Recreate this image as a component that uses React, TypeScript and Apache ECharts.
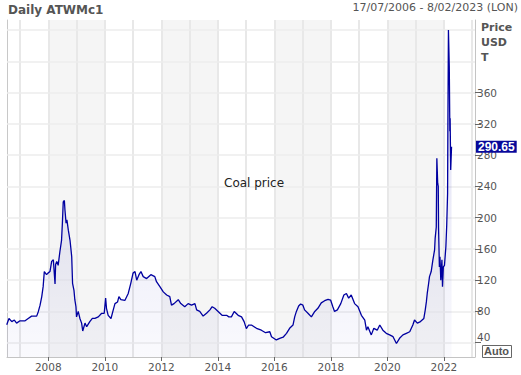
import React, { useEffect, useRef } from "react";
import * as echarts from "echarts";

const years = [
  2006.53, 2006.61, 2006.71, 2006.8, 2006.88, 2007.0, 2007.18, 2007.29, 2007.41, 2007.59,
  2007.65, 2007.71, 2007.77, 2007.82, 2007.86, 2007.94, 2007.99, 2008.06, 2008.12, 2008.18,
  2008.24, 2008.26, 2008.3, 2008.35, 2008.41, 2008.47, 2008.5, 2008.53, 2008.57, 2008.59,
  2008.63, 2008.66, 2008.71, 2008.77, 2008.83, 2008.86, 2008.91, 2008.94, 2008.98, 2009.0,
  2009.06, 2009.12, 2009.18, 2009.22, 2009.3, 2009.36, 2009.47, 2009.56, 2009.65, 2009.77,
  2009.89, 2009.98, 2010.03, 2010.06, 2010.12, 2010.22, 2010.3, 2010.36, 2010.45, 2010.5,
  2010.57, 2010.71, 2010.83, 2010.92, 2011.0, 2011.07, 2011.13, 2011.21, 2011.28, 2011.36,
  2011.48, 2011.63, 2011.77, 2011.83, 2011.95, 2012.07, 2012.19, 2012.3, 2012.36, 2012.45,
  2012.6, 2012.69, 2012.83, 2012.95, 2013.07, 2013.19, 2013.25, 2013.36, 2013.48, 2013.6,
  2013.72, 2013.8, 2013.89, 2014.01, 2014.15, 2014.31, 2014.39, 2014.48, 2014.58, 2014.72,
  2014.84, 2014.93, 2015.01, 2015.09, 2015.19, 2015.37, 2015.54, 2015.69, 2015.84, 2015.9,
  2016.07, 2016.19, 2016.31, 2016.43, 2016.54, 2016.66, 2016.72, 2016.78, 2016.86, 2016.93,
  2017.01, 2017.07, 2017.19, 2017.31, 2017.43, 2017.54, 2017.66, 2017.78, 2017.9, 2017.99,
  2018.07, 2018.13, 2018.23, 2018.35, 2018.46, 2018.55, 2018.63, 2018.72, 2018.84, 2018.96,
  2019.08, 2019.2, 2019.26, 2019.31, 2019.43, 2019.52, 2019.64, 2019.73, 2019.84, 2019.96,
  2020.08, 2020.2, 2020.32, 2020.43, 2020.55, 2020.67, 2020.79, 2020.9, 2020.96, 2021.06,
  2021.17, 2021.29, 2021.34, 2021.38, 2021.41, 2021.46, 2021.49, 2021.55, 2021.61, 2021.67,
  2021.69, 2021.73, 2021.75, 2021.78, 2021.8, 2021.81, 2021.84, 2021.86, 2021.89, 2021.93,
  2021.95, 2021.98, 2022.02, 2022.07, 2022.1, 2022.13, 2022.14, 2022.16, 2022.19, 2022.21,
  2022.22, 2022.24, 2022.27,
];

const prices = [
  63, 71, 67, 69, 65, 68, 68, 71, 74, 74,
  80, 88, 99, 112, 131, 127, 129, 131, 144, 146,
  115, 140, 144, 139, 156, 171, 193, 220, 222, 210,
  193, 197, 184, 171, 150, 116, 107, 95, 86, 73,
  80, 71, 65, 55, 65, 60.5, 67, 71, 71, 73,
  77.6, 77.6, 97, 84, 75, 71, 82, 90, 92, 99,
  95, 94, 103, 116, 129, 131, 120, 127, 131, 124.5,
  122, 127, 124.5, 118, 111.6, 105, 101, 99, 88, 90,
  95, 90, 86, 90, 88, 90, 82, 80, 74, 77.6,
  82, 86, 84, 80, 75, 75, 73, 73, 80, 75,
  73, 67, 58, 62.6, 62.6, 58.4, 56, 52.8, 54, 47.7,
  43.5, 45.6, 47, 52, 58.4, 62.6, 73, 80, 87, 89.5,
  88, 82, 77.6, 73, 80, 84, 91, 93.7, 95.5, 94.6,
  86, 80, 82, 90, 101, 103, 97, 101, 90, 86,
  75, 69, 56, 60.5, 50, 58.4, 56, 62.6, 56, 52,
  50, 47.7, 39, 45.6, 50, 52, 54, 62.6, 69, 65,
  67, 71, 82, 92.5, 103, 116, 124.5, 131, 146, 158.6,
  173.5, 188, 276, 244, 240, 188, 137, 150, 120, 146,
  111.6, 137, 139, 163, 191, 231, 316, 440, 393, 310.5,
  327, 261, 290.65,
];

const xLabelYears = [2008, 2010, 2012, 2014, 2016, 2018, 2020, 2022];
const yearLines = [2007, 2008, 2009, 2010, 2011, 2012, 2013, 2014, 2015, 2016, 2017, 2018, 2019, 2020, 2021, 2022, 2023];
const shadedBands = [[2008, 2010], [2012, 2014], [2016, 2018], [2020, 2022]];
const priceLabels = [40, 80, 120, 160, 200, 240, 280, 320, 360];
const priceGridLines = [40, 80, 120, 160, 200, 240, 280, 320, 360, 400, 440];
const lastPrice = 290.65;
const xMin = 2006.54;
const xMax = 2023.1;
const yMin = 21.7;
const yMax = 452.8;

const FONT = "'DejaVu Sans', sans-serif";
const NARROW = "'Liberation Sans', Arial, sans-serif";

export default function App() {
  const ref = useRef<HTMLDivElement>(null);
  useEffect(() => {
    if (!ref.current) return;
    const chart = echarts.init(ref.current, undefined, { renderer: "svg" });
    const data = years.map((y, i) => [y, prices[i]]);
    chart.setOption({
      animation: false,
      backgroundColor: "#ffffff",
      textStyle: { fontFamily: FONT },
      grid: { left: 7, right: 46, top: 20, bottom: 18 },
      xAxis: {
        type: "value",
        min: xMin,
        max: xMax,
        axisLine: { show: true, lineStyle: { color: "#c4c4c4", width: 1 } },
        axisTick: { show: true, length: 4, customValues: xLabelYears, lineStyle: { color: "#666" } },
        axisLabel: {
          customValues: xLabelYears,
          formatter: (v: number) => String(Math.round(v)),
          color: "#555",
          fontSize: 10.5,
          fontFamily: FONT,
          margin: 4,
        },
        splitLine: { show: false },
      },
      yAxis: [
        {
          type: "value",
          position: "right",
          min: yMin,
          max: yMax,
          axisLine: { show: true, lineStyle: { color: "#c4c4c4", width: 1 } },
          axisTick: { show: true, length: 6, customValues: priceLabels, lineStyle: { color: "#666" } },
          axisLabel: {
            customValues: priceLabels,
            color: "#555",
            fontSize: 10.5,
            fontFamily: FONT,
            margin: 2,
            formatter: (v: number) => (v === 40 ? "{up|40}" : String(v)),
            rich: { up: { padding: [0, 0, 12, 0], color: "#555", fontSize: 10.5, fontFamily: FONT } },
          },
          splitLine: { show: false },
          axisPointer: {
            show: true,
            value: lastPrice,
            status: "show",
            snap: false,
            triggerTooltip: false,
            triggerOn: "none",
            lineStyle: { opacity: 0, width: 0 },
            label: {
              show: true,
              formatter: () => lastPrice.toFixed(2),
              backgroundColor: "#08089a",
              color: "#fff",
              fontWeight: "bold",
              fontSize: 12,
              fontFamily: NARROW,
              padding: [0, 2, 0, 2],
              margin: 1,
              borderRadius: 0,
              shadowBlur: 0,
            },
          },
        },
        {
          type: "value",
          position: "left",
          min: yMin,
          max: yMax,
          axisLine: { show: true, lineStyle: { color: "#c8c8c8", width: 1 } },
          axisTick: { show: false },
          axisLabel: { show: false },
          splitLine: { show: false },
        },
      ],
      series: [
        {
          type: "line",
          data: [],
          z: 0,
          silent: true,
          markArea: {
            silent: true,
            z: 0,
            itemStyle: { color: "#f5f5f5" },
            data: shadedBands.map((b) => [{ xAxis: b[0] }, { xAxis: b[1] }]),
          },
        },
        {
          type: "line",
          data: [],
          z: 1,
          silent: true,
          markLine: {
            silent: true,
            z: 1,
            symbol: ["none", "none"],
            label: { show: false },
            lineStyle: { color: "#e8e8e8", width: 2, type: "solid" },
            data: [
              ...yearLines.map((y) => ({ xAxis: y })),
              ...priceGridLines.map((v) => ({ yAxis: v, lineStyle: { color: "#ededed", width: 1.5, type: "solid" } })),
            ],
          },
        },
        {
          type: "line",
          data,
          z: 3,
          showSymbol: false,
          symbol: "none",
          lineStyle: { color: "#0000a0", width: 1.3 },
          areaStyle: {
            color: new echarts.graphic.LinearGradient(0, 0, 0, 1, [
              { offset: 0, color: "rgba(0,0,170,0.2)" },
              { offset: 1, color: "rgba(0,0,170,0.03)" },
            ]),
          },
        },
      ],
      graphic: [
        {
          type: "text",
          left: 8,
          top: 4,
          z: 100,
          style: { text: "Daily ATWMc1", font: `bold 12px ${FONT}`, fill: "#555" },
        },
        {
          type: "text",
          right: 3,
          top: 2,
          z: 100,
          style: { text: "17/07/2006 - 8/02/2023 (LON)", font: `11px ${FONT}`, fill: "#555" },
        },
        {
          type: "text",
          left: 481,
          top: 20,
          z: 100,
          style: { text: "Price\nUSD\nT", font: `bold 11px ${FONT}`, lineHeight: 15, fill: "#555" },
        },
        {
          type: "text",
          left: 224,
          top: 177,
          z: 100,
          style: { text: "Coal price", font: `12px ${FONT}`, fill: "#222" },
        },
        {
          type: "group",
          left: 482,
          top: 345,
          z: 100,
          children: [
            { type: "rect", z: 100, shape: { x: 0, y: 0, width: 29, height: 12 }, style: { fill: "#fff", stroke: "#666", lineWidth: 1 } },
            { type: "text", z: 101, x: 1.5, y: 0, style: { text: "Auto", font: `bold 11px ${NARROW}`, fill: "#555" } },
          ],
        },
      ],
    });
    return () => chart.dispose();
  }, []);
  return <div ref={ref} style={{ position: "fixed", left: 0, top: 0, width: 521, height: 375 }} />;
}
